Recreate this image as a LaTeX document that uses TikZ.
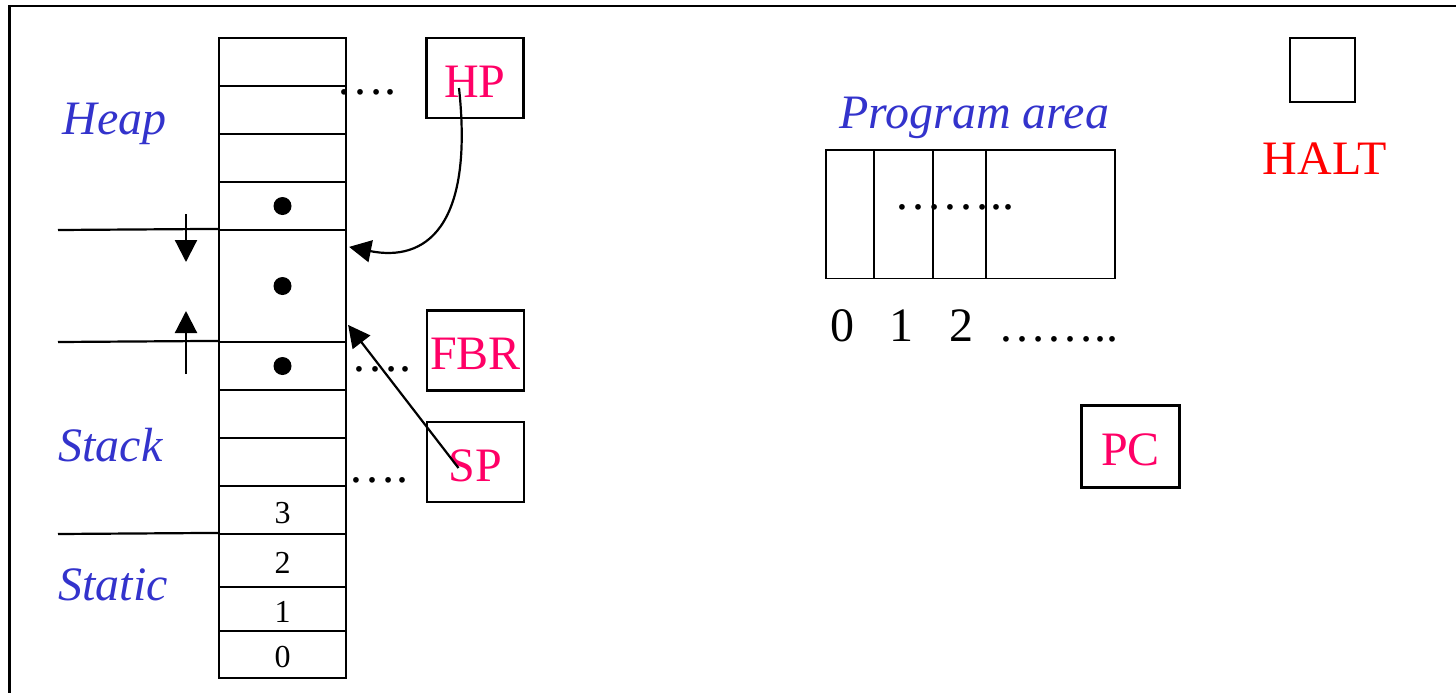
\documentclass[tikz,border=0pt]{standalone}
\usepackage{fontspec}
\setmainfont{Liberation Serif}
\usetikzlibrary{arrows.meta,calc}
\definecolor{areablue}{RGB}{51,51,204}
\definecolor{regpink}{RGB}{255,0,102}
\definecolor{haltred}{RGB}{255,0,0}
\begin{document}
\begin{tikzpicture}[x=0.5pt,y=-0.5pt,
  cell/.style={draw,line width=1.1pt,minimum width=63.5pt,inner sep=0pt,text height=13pt,text depth=0pt,font=\fontsize{16}{18}\selectfont},
  reg/.style={draw,line width=1.2pt,inner sep=0pt,minimum width=48.5pt,minimum height=40pt,text height=19pt,text depth=0pt,text=regpink,font=\fontsize{24}{28}\selectfont},
  area/.style={text=areablue,font=\fontsize{24}{28}\selectfont\itshape,inner sep=0pt,anchor=base west},
  big/.style={font=\fontsize{24}{28}\selectfont,inner sep=0pt,anchor=base},
  pcell/.style={draw,line width=0.8pt,minimum height=64.15pt,inner sep=0pt},
  arr/.style={-{Triangle[length=11pt,width=11pt]},line width=1.1pt},
  rule/.style={line width=1.1pt},
]
\useasboundingbox (0,0) rectangle (1456,692);
\clip (0,0) rectangle (1456,692);
% outer frame
\draw[line width=1.2pt] (9.6,6) rectangle (1480,720);

% memory column
\foreach \nm/\ya/\yb/\txt in {c1/38/86/{},c2/86/134/{},c3/134/182/{},c4/182/230/{},
    c5/230/342/{},c6/342/390/{},c7/390/438/{},c8/438/486/{},
    c9/486/534/3,c10/534/587/2,c11/587/631/1,c12/631/678/0}
  \node[cell,minimum height={(\yb-\ya)*0.5pt}] (\nm) at (282.5,{(\ya+\yb)/2}) {\txt};
\foreach \nm in {c4,c5,c6}
  \fill (\nm.center) circle[radius=4.5pt];

% area labels
\node[area] (heap) at (62,134.3) {Heap};
\node[area] (stack) at (58,461.7) {Stack};
\node[area] (static) at (58,600.7) {Static};

% boundary rules
\coordinate (r1) at (58,230);
\coordinate (r2) at (58,342);
\coordinate (r3) at (58,534);
\draw[rule] (r1) -- (c5.north west);
\draw[rule] (r2) -- (c6.north west);
\draw[rule] (r3) -- (c10.north west);

% frame markers
\coordinate (da) at (186,214);
\coordinate (db) at (186,262);
\coordinate (ua) at (186,374);
\coordinate (ub) at (186,311);
\draw[arr] (da) -- (db);
\draw[arr] (ua) -- (ub);

% registers
\node[reg] (hp) at (475,78) {HP};
\node[reg] (fbr) at (475.5,350.5) {FBR};
\node[reg] (sp) at (475.5,462) {SP};
\node[reg,minimum width=49pt,minimum height=41pt] (pc) at (1130.5,446.5) {PC};

% leaders
\node[big] (dhp) at (366,94.5) {….};
\node[big] (dfbr) at (381,371) {….};
\node[big] (dsp) at (378.5,482.5) {….};

% pointers
\coordinate (hpfrom) at ($(hp.center)+(-16,10)$);
\coordinate (hpto) at ($(c5.north east)+(2,18)$);
\draw[arr] (hpfrom) .. controls (474,228) and (425,262) .. (hpto);
\coordinate (spfrom) at ($(sp.center)+(-17,6)$);
\coordinate (spto) at ($(c5.north east)+(1,96)$);
\draw[arr] (spfrom) -- (spto);

% program area
\node[area] (parea) at (839,128) {Program area};
\node[pcell,minimum width=24pt] (p0) at (850,214.15) {};
\node[pcell,minimum width=29.35pt] (p1) at (903.35,214.15) {};
\node[pcell,minimum width=26.65pt] (p2) at (959.35,214.15) {};
\node[pcell,minimum width=64.5pt] (p3) at (1050.5,214.15) {};
\node[big] (pdots) at (954.5,209.5) {……..};
\node[big] (n0) at (842,341.7) {0};
\node[big] (n1) at (901.5,341.7) {1};
\node[big] (n2) at (961,341.7) {2};
\node[big] (ndots) at (1058,341.7) {……..};

% halt
\node[draw,line width=0.9pt,minimum width=32.5pt,minimum height=32pt,inner sep=0pt] (haltbox) at (1322.5,70.3) {};
\node[big,text=haltred] (halt) at (1324.5,174) {HALT};
\end{tikzpicture}
\end{document}
